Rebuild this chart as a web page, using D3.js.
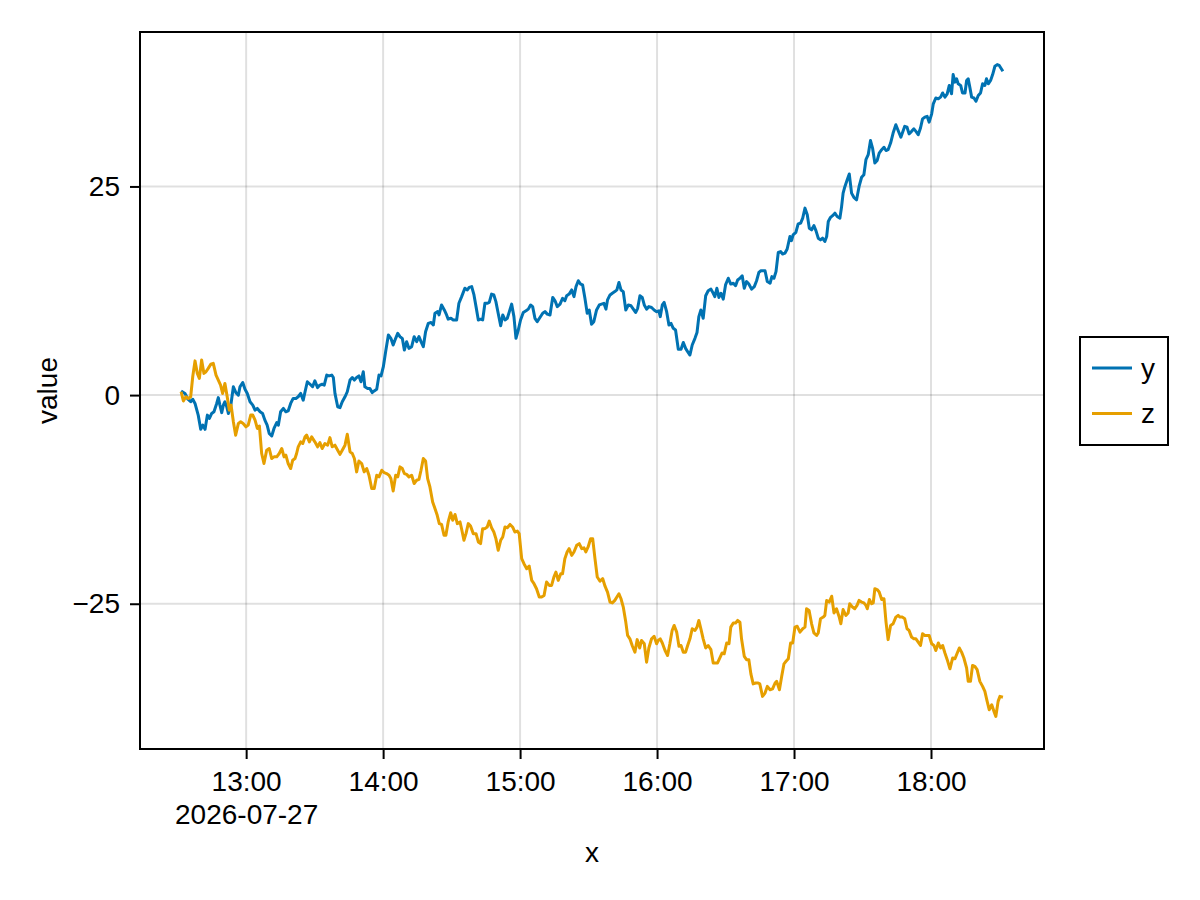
<!DOCTYPE html>
<html>
<head>
<meta charset="utf-8">
<script src="https://cdn.jsdelivr.net/npm/d3@7"></script>
<style>
  body { margin: 0; background: #fff; }
  text { font-family: "Liberation Sans", Arial, sans-serif; }
</style>
</head>
<body>
<div id="chart"></div>
<script>
// Series start time (UTC) and readings as [minutes since start, value]
const startTime = Date.UTC(2026, 6, 27, 12, 31, 30);
const seriesNames = ["y", "z"];
const seriesColors = ["#0072B2", "#E69F00"];
const yTickValues = [-25, 0, 25];
const firstDateLabel = "2026-07-27";

const yPoints = [
  [0,0.5],[1.7,0.2],[3.0,-0.5],[4.2,-0.8],[5.1,-0.5],[6.1,-1.0],[7.5,-2.4],[8.6,-4.1],[9.5,-3.6],[10.5,-4.1],
  [11.5,-2.4],[12.4,-2.8],[13.4,-2.2],[14.4,-2.0],[15.6,-1.0],[16.3,-0.3],[17.0,-1.2],[17.8,-2.1],[18.5,-1.2],[19.2,-0.8],
  [20.0,-1.4],[20.7,-2.2],[21.7,-1.4],[22.9,1.0],[24.0,0.3],[25.1,0.0],[25.8,1.0],[27.0,1.5],[28.0,0.7],[29.0,0.2],
  [30.2,-0.8],[31.4,-1.2],[32.4,-1.8],[33.4,-1.6],[34.6,-2.0],[35.7,-2.2],[36.7,-3.0],[37.7,-3.6],[38.6,-4.6],[39.7,-4.9],
  [40.7,-4.0],[41.9,-3.3],[42.6,-3.6],[43.6,-2.0],[44.8,-1.6],[45.9,-2.0],[46.9,-1.9],[48.0,-1.0],[49.1,-0.4],[50.3,-0.4],
  [51.3,-0.2],[52.4,0.2],[53.5,-0.6],[54.3,0.4],[55.3,1.6],[56.5,1.3],[57.6,1.0],[58.6,1.7],[59.8,0.9],[60.8,1.2],
  [61.8,1.3],[62.7,1.2],[63.8,2.4],[64.8,2.3],[66.0,2.4],[66.7,2.1],[67.4,0.2],[68.6,-1.4],[69.6,-1.5],[70.6,-0.8],
  [71.8,-0.2],[72.8,0.4],[74.0,1.8],[75.0,2.1],[75.9,1.8],[76.9,2.1],[77.9,2.3],[78.8,1.6],[79.8,2.8],[80.5,1.0],
  [81.7,0.8],[82.7,0.8],[83.7,0.3],[84.6,0.5],[85.7,0.7],[86.7,2.4],[87.6,2.3],[88.6,3.4],[89.6,5.2],[90.8,7.2],
  [91.9,6.8],[92.9,6.0],[94.0,6.8],[94.9,7.4],[95.9,7.0],[96.9,6.8],[97.8,5.4],[98.8,6.4],[99.8,5.6],[101.0,5.8],
  [102.1,7.0],[103.2,6.4],[104.2,7.0],[105.1,6.4],[106.1,5.8],[107.1,7.6],[108.3,8.6],[109.5,8.7],[110.5,8.4],[111.2,9.8],
  [112.4,10.0],[113.0,9.6],[114.1,10.8],[115.3,10.2],[116.3,9.6],[117.0,9.1],[118.2,9.2],[119.2,9.0],[120.7,9.0],[121.7,11.0],
  [122.9,11.8],[124.3,12.8],[125.4,12.6],[126.2,12.9],[127.3,13.0],[128.3,12.0],[129.2,10.6],[130.2,9.0],[131.2,9.1],[132.1,9.0],
  [133.1,11.0],[134.1,11.0],[135.0,11.1],[136.0,12.1],[137.0,12.0],[137.9,11.2],[138.9,9.8],[140.0,8.3],[140.9,9.6],[141.9,9.0],
  [142.9,9.2],[143.8,10.0],[144.8,10.9],[145.8,9.4],[146.7,6.8],[147.7,7.8],[148.7,9.0],[149.9,9.9],[151.1,10.1],[152.1,10.3],
  [153.1,10.8],[154.0,10.6],[155.0,9.2],[156.0,8.8],[157.2,9.3],[158.4,9.8],[159.4,10.0],[160.4,9.7],[161.6,9.6],[162.8,11.7],
  [163.8,11.3],[164.8,10.6],[166.0,10.9],[167.1,11.6],[168.1,11.3],[168.9,11.9],[170.0,12.1],[171.1,12.6],[172.1,11.8],[173.0,13.0],
  [174.0,13.7],[175.0,13.3],[175.9,13.2],[176.9,11.6],[177.9,9.8],[178.8,10.2],[179.8,8.5],[180.8,8.8],[182.0,10.2],[183.2,10.8],
  [184.2,10.9],[185.2,11.0],[186.1,10.3],[186.8,11.4],[187.9,12.0],[188.9,12.2],[190.0,12.4],[190.9,12.6],[191.8,13.5],[192.7,12.6],
  [193.7,12.4],[194.8,10.2],[195.9,10.8],[197.1,10.7],[198.1,10.3],[199.1,9.9],[200.0,10.4],[201.0,11.9],[202.0,11.7],[202.9,10.8],
  [203.9,10.3],[204.9,10.6],[206.1,10.5],[207.2,10.2],[208.3,10.0],[209.3,10.1],[209.9,9.4],[210.8,10.8],[211.6,11.1],[212.7,10.0],
  [213.7,8.4],[214.6,8.6],[215.6,8.0],[216.6,7.8],[217.8,5.5],[219.0,5.5],[220.0,6.3],[221.0,5.6],[221.9,5.2],[222.9,4.8],
  [223.9,6.0],[225.1,6.8],[226.0,7.5],[226.8,9.4],[227.7,10.2],[228.7,9.2],[229.8,11.9],[230.9,12.5],[232.1,12.7],[233.1,12.2],
  [233.8,11.8],[234.7,12.8],[235.6,11.7],[236.5,12.2],[237.5,11.5],[238.5,13.2],[239.7,14.0],[240.8,13.3],[241.9,13.4],[242.9,13.1],
  [243.8,13.8],[244.8,14.0],[245.8,14.3],[246.7,12.8],[247.7,13.6],[248.7,13.3],[249.9,12.7],[251.1,13.0],[252.1,13.7],[253.1,14.7],
  [254.0,14.9],[255.8,14.9],[256.8,13.6],[258.0,13.4],[258.8,14.2],[259.7,14.0],[260.6,14.8],[261.6,17.1],[262.6,17.2],[263.5,16.9],
  [264.5,17.0],[265.5,17.5],[266.7,19.0],[267.4,18.5],[268.1,19.2],[269.3,19.5],[270.3,20.5],[271.4,20.6],[272.3,21.2],[273.3,22.4],
  [274.3,21.6],[275.2,20.0],[276.2,19.8],[277.2,20.3],[278.1,19.7],[279.1,18.8],[280.1,18.6],[281.0,18.8],[282.0,18.4],[282.8,19.0],
  [283.5,20.8],[284.5,21.3],[285.4,21.5],[286.4,21.8],[287.4,21.4],[288.6,21.2],[289.3,22.5],[290.0,24.2],[290.8,25.0],[291.8,25.8],
  [292.7,26.5],[293.7,24.2],[294.7,23.7],[295.9,23.4],[297.0,25.0],[298.1,26.1],[299.1,26.4],[300.0,28.2],[301.0,28.8],[302.0,30.5],
  [302.9,29.6],[303.9,27.8],[304.9,28.1],[305.8,29.0],[306.9,29.4],[307.9,29.7],[308.8,29.3],[309.7,29.4],[310.8,30.2],[311.9,31.4],
  [313.1,32.4],[314.1,31.7],[315.3,30.9],[317.0,32.2],[318.0,32.1],[318.9,31.3],[320.0,31.6],[321.0,31.9],[321.9,31.6],[322.9,31.2],
  [323.9,32.0],[324.8,33.1],[325.8,33.3],[326.8,33.4],[327.7,32.7],[328.8,33.7],[329.5,34.9],[330.6,35.6],[331.7,35.5],[332.7,35.7],
  [333.6,36.2],[334.6,35.7],[335.6,36.1],[336.5,37.1],[337.5,36.1],[338.2,38.4],[339.0,37.5],[339.7,37.9],[340.4,37.3],[341.5,37.1],
  [342.3,36.2],[343.4,36.2],[344.1,37.7],[344.8,37.9],[345.5,36.9],[346.3,35.7],[347.3,35.6],[348.2,35.2],[349.2,35.9],[350.2,36.2],
  [351.1,37.3],[352.1,37.1],[352.8,37.9],[353.6,37.3],[354.6,37.7],[355.5,38.4],[356.5,39.4],[357.5,39.6],[358.4,39.5],[360.0,38.8]
];

const zPoints = [
  [0,0.4],[1.0,-0.7],[2.1,-0.2],[3.2,-0.4],[4.2,-0.2],[5.1,2.2],[6.1,4.1],[7.1,2.6],[8.0,2.0],[9.0,4.2],
  [10.0,2.6],[10.9,2.8],[11.9,3.2],[13.0,3.7],[14.1,3.8],[15.3,2.4],[16.3,1.8],[17.3,1.2],[18.2,0.2],[19.2,1.4],
  [20.2,-0.2],[21.1,-1.8],[21.9,-1.2],[22.9,-3.2],[23.9,-4.8],[25.1,-3.4],[26.1,-3.2],[27.2,-3.4],[28.4,-3.8],[29.4,-3.6],
  [30.5,-2.4],[31.4,-2.4],[32.4,-3.0],[33.4,-4.0],[34.3,-3.7],[35.3,-7.0],[36.3,-8.2],[37.5,-6.6],[38.6,-6.4],[39.7,-7.6],
  [40.7,-7.4],[41.9,-7.4],[43.0,-7.0],[44.1,-6.4],[45.1,-7.4],[45.9,-7.2],[46.9,-8.2],[48.0,-8.8],[48.9,-7.8],[49.9,-7.6],
  [50.6,-7.0],[51.3,-6.2],[52.4,-5.6],[53.3,-5.8],[54.3,-5.0],[55.0,-4.8],[56.2,-5.6],[57.2,-5.0],[58.6,-5.6],[59.8,-6.2],
  [60.8,-5.7],[61.8,-6.4],[63.0,-5.8],[64.2,-6.0],[65.2,-5.1],[66.2,-6.2],[67.4,-6.0],[68.6,-6.6],[69.6,-7.1],[70.6,-6.6],
  [71.8,-6.0],[72.8,-4.7],[74.0,-6.8],[75.0,-7.0],[75.9,-7.6],[76.9,-9.2],[77.9,-7.9],[79.1,-8.2],[80.2,-9.2],[81.3,-8.8],
  [82.3,-9.6],[83.5,-11.2],[84.6,-11.2],[85.7,-9.6],[86.7,-9.8],[87.9,-9.0],[89.0,-9.3],[90.0,-9.4],[91.1,-9.6],[91.9,-10.0],
  [92.9,-11.5],[94.0,-9.6],[94.9,-9.8],[95.9,-8.6],[96.9,-8.8],[97.8,-9.4],[98.8,-9.5],[99.8,-9.8],[101.0,-9.6],[102.1,-10.6],
  [103.2,-10.2],[104.2,-10.1],[105.1,-9.0],[106.1,-7.6],[107.1,-7.9],[108.0,-10.0],[109.0,-11.0],[110.2,-12.8],[111.2,-13.6],[112.2,-14.4],
  [113.1,-15.4],[114.1,-15.5],[115.2,-16.8],[116.0,-16.8],[117.0,-15.2],[118.1,-14.1],[119.0,-15.0],[120.0,-14.3],[121.0,-15.4],[122.2,-15.2],
  [123.0,-16.2],[123.9,-17.4],[124.8,-16.6],[125.8,-15.4],[126.8,-15.7],[128.0,-16.6],[129.2,-16.6],[130.2,-17.6],[131.2,-17.8],[132.1,-16.0],
  [133.1,-16.0],[134.1,-15.8],[135.0,-15.1],[136.0,-15.9],[137.0,-16.4],[137.9,-17.2],[138.9,-18.6],[140.0,-17.4],[140.9,-17.0],[141.9,-15.8],
  [142.9,-15.9],[144.1,-15.5],[145.2,-15.8],[146.2,-16.4],[147.3,-16.3],[148.1,-16.6],[149.2,-19.6],[150.2,-20.2],[151.4,-20.8],[152.5,-20.5],
  [153.6,-22.2],[154.6,-22.6],[155.7,-23.2],[156.9,-24.2],[157.9,-24.2],[159.0,-24.0],[160.1,-22.4],[161.3,-22.8],[162.3,-22.8],[163.3,-21.8],
  [164.2,-21.2],[165.2,-22.2],[166.3,-21.4],[167.1,-21.4],[168.1,-19.6],[169.1,-18.8],[170.0,-18.4],[171.1,-19.2],[172.1,-18.8],[173.3,-18.0],
  [174.4,-17.8],[175.5,-18.4],[176.5,-18.3],[177.3,-18.8],[178.3,-18.2],[179.4,-17.2],[180.3,-17.2],[181.3,-19.6],[182.3,-21.8],[183.5,-22.3],
  [184.7,-22.0],[185.7,-22.9],[186.8,-23.6],[187.9,-24.8],[188.9,-24.9],[190.0,-24.6],[190.9,-24.2],[191.8,-23.8],[192.7,-24.4],[193.7,-25.4],
  [194.8,-27.2],[195.6,-28.8],[196.6,-29.2],[197.6,-30.0],[198.8,-30.8],[199.8,-29.3],[200.9,-30.3],[201.7,-29.4],[202.9,-29.8],[203.9,-32.0],
  [204.9,-30.3],[206.1,-29.2],[207.2,-28.9],[208.3,-29.8],[209.0,-29.4],[209.9,-29.2],[210.8,-29.7],[212.0,-30.6],[213.1,-31.2],[214.1,-29.8],
  [215.1,-28.2],[216.0,-27.6],[217.1,-28.4],[218.1,-30.1],[219.0,-30.0],[220.0,-30.8],[221.0,-30.8],[221.9,-30.0],[222.9,-29.2],[223.9,-28.0],
  [225.1,-28.2],[226.0,-27.8],[226.8,-27.0],[227.7,-28.0],[228.7,-29.2],[229.8,-30.3],[230.9,-30.0],[232.1,-30.5],[233.1,-32.1],[234.1,-32.1],
  [235.0,-32.1],[236.0,-31.5],[237.0,-30.9],[237.9,-31.0],[239.0,-29.7],[240.0,-29.8],[240.8,-27.8],[241.9,-27.3],[242.9,-27.3],[243.8,-27.0],
  [244.8,-27.2],[245.5,-29.2],[246.7,-31.3],[247.7,-31.7],[248.7,-31.7],[249.6,-33.4],[250.6,-34.6],[251.7,-34.5],[252.8,-34.5],[253.5,-34.6],
  [254.7,-36.1],[255.8,-35.7],[256.8,-34.9],[258.0,-35.3],[259.1,-35.2],[260.2,-34.5],[260.9,-34.3],[262.1,-35.3],[263.1,-33.7],[264.1,-32.2],
  [265.0,-31.9],[266.0,-31.6],[267.0,-29.7],[267.9,-29.7],[268.9,-27.8],[269.9,-27.7],[271.1,-28.4],[272.3,-28.0],[273.3,-27.8],[274.0,-25.6],
  [275.1,-25.8],[276.2,-27.4],[277.2,-28.5],[278.4,-28.8],[279.1,-28.5],[280.1,-26.8],[281.3,-26.6],[282.0,-26.4],[282.8,-24.6],[283.9,-24.8],
  [285.0,-24.1],[286.0,-26.1],[287.1,-25.6],[288.3,-26.6],[289.0,-27.4],[290.0,-25.7],[291.2,-26.4],[292.2,-26.1],[292.9,-25.0],[294.1,-25.4],
  [295.1,-25.6],[296.1,-25.2],[297.0,-24.6],[298.1,-24.8],[299.1,-24.9],[300.0,-25.2],[300.6,-25.6],[301.5,-24.5],[302.5,-25.0],[303.2,-24.9],
  [303.9,-23.2],[304.9,-23.3],[305.8,-23.6],[306.9,-24.5],[307.9,-24.4],[308.8,-27.2],[309.7,-29.3],[310.8,-27.6],[311.9,-27.4],[313.1,-26.6],
  [314.1,-26.4],[314.9,-26.6],[316.0,-26.6],[317.0,-26.8],[318.0,-28.0],[318.9,-28.2],[320.0,-29.0],[321.0,-29.2],[321.9,-29.2],[322.9,-29.6],
  [323.9,-30.0],[324.8,-28.6],[325.8,-28.8],[326.8,-28.8],[327.7,-28.8],[328.8,-29.8],[329.8,-30.0],[330.6,-30.6],[331.7,-29.7],[332.7,-30.3],
  [333.6,-30.0],[334.6,-30.9],[335.6,-31.7],[336.8,-32.8],[338.0,-31.5],[339.0,-31.6],[340.0,-30.9],[340.9,-30.3],[341.9,-30.8],[342.9,-31.5],
  [344.1,-32.7],[344.8,-34.3],[345.8,-34.3],[346.7,-32.4],[347.7,-32.5],[348.7,-32.9],[349.9,-34.3],[351.1,-34.9],[352.1,-35.5],[353.1,-36.7],
  [354.0,-37.7],[355.1,-37.1],[356.1,-37.9],[356.9,-38.5],[357.9,-36.7],[358.7,-36.1],[360.0,-36.2]
];

const width = 1200;
const height = 900;
const plot = { left: 140, top: 32, right: 1044, bottom: 749 };
const fontSize = 28;

const svg = d3.select("#chart").append("svg")
  .attr("width", width)
  .attr("height", height);

svg.append("rect")
  .attr("width", width)
  .attr("height", height)
  .attr("fill", "#fff");

// Turn readings into dated rows
function toRows(points) {
  return points.map(function (p) {
    return { t: new Date(startTime + p[0] * 60000), v: p[1] };
  });
}
const series = [toRows(yPoints), toRows(zPoints)];

// Padded extents (5% on each side)
function padded(ext) {
  const pad = (ext[1] - ext[0]) * 0.05;
  return [ext[0] - pad, ext[1] + pad];
}
const allRows = series[0].concat(series[1]);
const tExt = padded(d3.extent(allRows, d => +d.t));
const vExt = padded(d3.extent(allRows, d => d.v));

const x = d3.scaleUtc()
  .domain([new Date(tExt[0]), new Date(tExt[1])])
  .range([plot.left, plot.right]);

const y = d3.scaleLinear()
  .domain(vExt)
  .range([plot.bottom, plot.top]);

const xTicks = x.ticks(d3.utcHour.every(1));
const fmtTime = d3.utcFormat("%H:%M");

// Grid lines
const grid = svg.append("g")
  .attr("stroke", "rgba(0,0,0,0.12)")
  .attr("stroke-width", 2);

grid.selectAll(".gx")
  .data(xTicks)
  .enter()
  .append("line")
  .attr("x1", d => x(d))
  .attr("x2", d => x(d))
  .attr("y1", plot.top)
  .attr("y2", plot.bottom);

grid.selectAll(".gy")
  .data(yTickValues)
  .enter()
  .append("line")
  .attr("x1", plot.left)
  .attr("x2", plot.right)
  .attr("y1", d => y(d))
  .attr("y2", d => y(d));

// Lines
const line = d3.line()
  .x(d => x(d.t))
  .y(d => y(d.v));

svg.append("g")
  .selectAll("path")
  .data(series)
  .enter()
  .append("path")
  .attr("d", line)
  .attr("fill", "none")
  .attr("stroke", (d, i) => seriesColors[i])
  .attr("stroke-width", 3)
  .attr("stroke-linejoin", "round");

// Frame
svg.append("rect")
  .attr("x", plot.left)
  .attr("y", plot.top)
  .attr("width", plot.right - plot.left)
  .attr("height", plot.bottom - plot.top)
  .attr("fill", "none")
  .attr("stroke", "#000")
  .attr("stroke-width", 2);

// Axes
const xAxis = svg.append("g")
  .attr("transform", "translate(0," + plot.bottom + ")")
  .call(d3.axisBottom(x)
    .tickValues(xTicks)
    .tickFormat(fmtTime)
    .tickSize(10)
    .tickSizeOuter(0)
    .tickPadding(12));

xAxis.selectAll("text")
  .filter((d, i) => i === 0)
  .append("tspan")
  .attr("x", 0)
  .attr("dy", "1.2em")
  .text(firstDateLabel);

const yAxis = svg.append("g")
  .attr("transform", "translate(" + plot.left + ",0)")
  .call(d3.axisLeft(y)
    .tickValues(yTickValues)
    .tickSize(10)
    .tickSizeOuter(0)
    .tickPadding(10));

[xAxis, yAxis].forEach(function (ax) {
  ax.select(".domain").remove();
  ax.selectAll(".tick line").attr("stroke", "#000").attr("stroke-width", 2);
  ax.selectAll("text")
    .attr("fill", "#000")
    .style("font-size", fontSize + "px")
    .style("font-family", "'Liberation Sans', Arial, sans-serif");
});

// Axis titles
svg.append("text")
  .attr("x", (plot.left + plot.right) / 2)
  .attr("y", 862)
  .attr("text-anchor", "middle")
  .style("font-size", fontSize + "px")
  .text("x");

svg.append("text")
  .attr("transform", "translate(57," + ((plot.top + plot.bottom) / 2) + ") rotate(-90)")
  .attr("text-anchor", "middle")
  .style("font-size", fontSize + "px")
  .text("value");

// Legend
const legend = svg.append("g").attr("class", "legend");
legend.append("rect")
  .attr("x", 1080)
  .attr("y", 337)
  .attr("width", 88)
  .attr("height", 108)
  .attr("fill", "#fff")
  .attr("stroke", "#000")
  .attr("stroke-width", 2);

const items = legend.selectAll(".item")
  .data(seriesNames)
  .enter()
  .append("g")
  .attr("transform", (d, i) => "translate(0," + (368 + i * 45.5) + ")");

items.append("line")
  .attr("x1", 1092)
  .attr("x2", 1132)
  .attr("stroke", (d, i) => seriesColors[i])
  .attr("stroke-width", 3);

items.append("text")
  .attr("x", 1141)
  .attr("dy", "0.35em")
  .style("font-size", fontSize + "px")
  .text(d => d);
</script>
</body>
</html>
